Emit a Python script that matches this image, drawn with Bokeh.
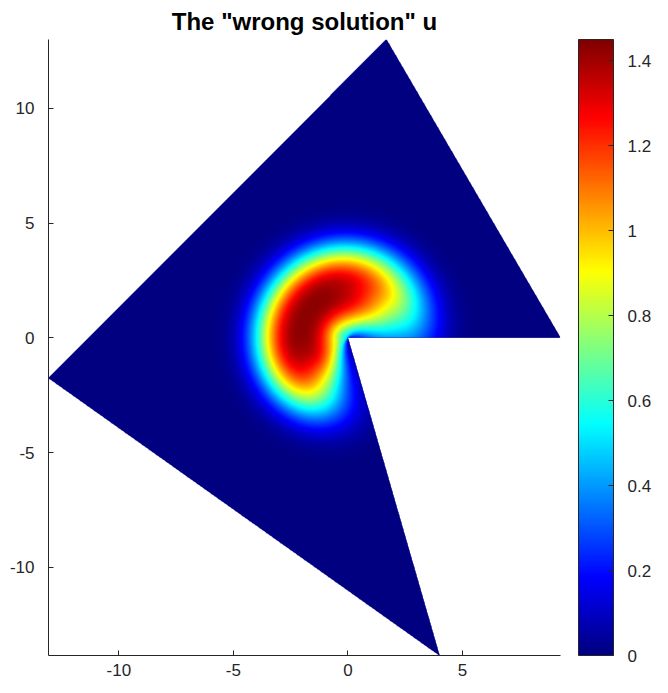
import numpy as np
from bokeh.plotting import figure
from bokeh.models import Range1d, LinearColorMapper, ColorBar, FixedTicker
from bokeh.embed import file_html
from bokeh.resources import INLINE

# ---- data ----
poly_x = [1.68, 9.28, 0.0, 4.0, -13.07]
poly_y = [13.0, 0.0, 0.0, -13.84, -1.75]
x_ticks = [-10, -5, 0, 5]
x_labels = ["-10", "-5", "0", "5"]
y_ticks = [-10, -5, 0, 5, 10]
y_labels = ["-10", "-5", "0", "5", "10"]
cb_ticks = [0, 0.2, 0.4, 0.6, 0.8, 1, 1.2, 1.4]
cb_labels = ["0", "0.2", "0.4", "0.6", "0.8", "1", "1.2", "1.4"]
u_low = 0.0
u_high = 1.45
title_text = 'The "wrong solution" u'

# crescent-shaped bump around the re-entrant corner
peak_value = 1.43
ring_radius = 2.05
ring_halfwidth = 1.96
ring_power = 2.6
angle_peak = 148.0
angle_spread_ccw = 110.0
angle_power_ccw = 4.4
angle_spread_cw = 138.0
angle_power_cw = 3.3

# ---- jet colour map ----
def jet(n=256):
    t = np.linspace(0, 1, n)
    r = np.clip(np.minimum(4 * t - 1.5, -4 * t + 4.5), 0, 1)
    g = np.clip(np.minimum(4 * t - 0.5, -4 * t + 3.5), 0, 1)
    b = np.clip(np.minimum(4 * t + 0.5, -4 * t + 2.5), 0, 1)
    return ["#%02x%02x%02x" % (int(round(a * 255)), int(round(c * 255)), int(round(d * 255)))
            for a, c, d in zip(r, g, b)]

palette = jet(256)

xmin, xmax = min(poly_x), max(poly_x)
ymin, ymax = min(poly_y), max(poly_y)

nx, ny = 512, 616
xs = xmin + (np.arange(nx) + 0.5) * (xmax - xmin) / nx
ys = ymin + (np.arange(ny) + 0.5) * (ymax - ymin) / ny
X, Y = np.meshgrid(xs, ys)


def inside(px, py, vx, vy):
    res = np.zeros(px.shape, dtype=bool)
    n = len(vx)
    j = n - 1
    with np.errstate(divide="ignore", invalid="ignore"):
        for i in range(n):
            xi, yi, xj, yj = vx[i], vy[i], vx[j], vy[j]
            if yi != yj:
                cond = ((yi > py) != (yj > py)) & (px < (xj - xi) * (py - yi) / (yj - yi) + xi)
                res ^= cond
            j = i
    return res


R = np.hypot(X, Y)
PHI = np.degrees(np.arctan2(Y, X)) % 360.0
h = np.exp(-(np.abs(R - ring_radius) / ring_halfwidth) ** ring_power)
dphi = PHI - angle_peak
g = np.where(dphi >= 0,
             np.exp(-(np.abs(dphi) / angle_spread_ccw) ** angle_power_ccw),
             np.exp(-(np.abs(dphi) / angle_spread_cw) ** angle_power_cw))
U = peak_value * h * g
U[~inside(X, Y, poly_x, poly_y)] = np.nan

mapper = LinearColorMapper(palette=palette, low=u_low, high=u_high, nan_color=(0, 0, 0, 0))

FONT = "Liberation Sans"
TXT = "#262626"

p = figure(x_range=Range1d(xmin, xmax), y_range=Range1d(ymin, ymax),
           frame_width=512, frame_height=616,
           output_backend="svg", toolbar_location=None,
           min_border_left=48, min_border_top=34, min_border_bottom=30, min_border_right=10,
           title=title_text)
p.title.align = "center"
p.title.text_font = FONT
p.title.text_font_style = "bold"
p.title.text_font_size = "24px"
p.title.text_color = "#000000"
p.title.standoff = 10

p.patch(poly_x, poly_y, fill_color=palette[0], line_color=None)
p.image(image=[U], x=xmin, y=ymin, dw=xmax - xmin, dh=ymax - ymin, color_mapper=mapper)

p.xgrid.visible = False
p.ygrid.visible = False
p.outline_line_color = None
p.background_fill_color = "white"
p.border_fill_color = "white"
p.xaxis.ticker = FixedTicker(ticks=x_ticks)
p.yaxis.ticker = FixedTicker(ticks=y_ticks)
p.xaxis.major_label_overrides = dict(zip(x_ticks, x_labels))
p.yaxis.major_label_overrides = dict(zip(y_ticks, y_labels))
for ax in (p.xaxis[0], p.yaxis[0]):
    ax.major_tick_in = 5
    ax.major_tick_out = 0
    ax.minor_tick_line_color = None
    ax.axis_line_color = TXT
    ax.major_tick_line_color = TXT
    ax.major_label_text_color = TXT
    ax.major_label_text_font = FONT
    ax.major_label_text_font_size = "17px"
p.xaxis.major_label_standoff = 8
p.yaxis.major_label_standoff = 14

cb = ColorBar(color_mapper=mapper, ticker=FixedTicker(ticks=cb_ticks),
              major_label_overrides=dict(zip(cb_ticks, cb_labels)),
              width=35, height=616, padding=0, margin=0, location=(18, 0),
              bar_line_color=TXT, major_tick_line_color=TXT,
              major_tick_in=5, major_tick_out=0,
              major_label_text_font=FONT, major_label_text_font_size="17px",
              major_label_text_color=TXT, label_standoff=14,
              border_line_color=None, background_fill_color="white")
p.add_layout(cb, "right")

open("out.html", "w").write(file_html(p, INLINE))
